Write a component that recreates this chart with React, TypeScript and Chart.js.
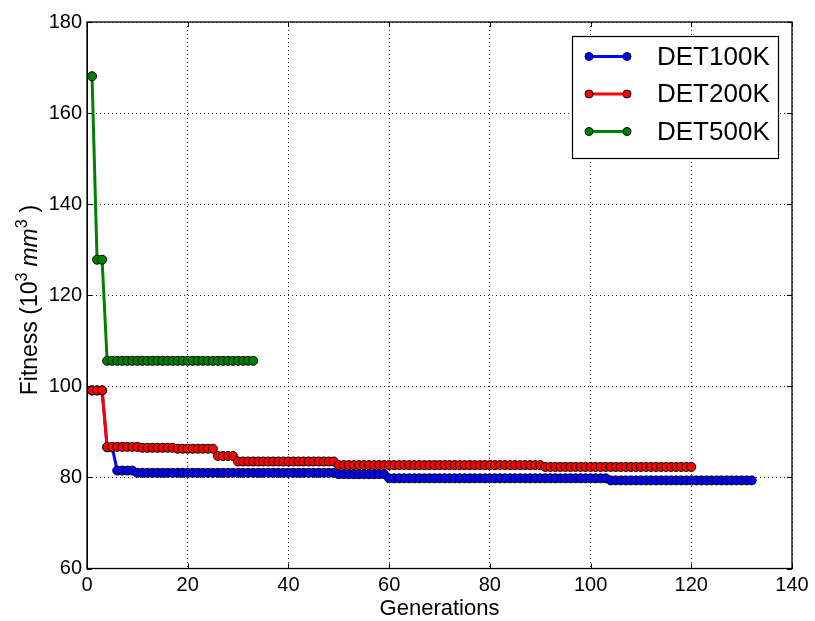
import { useEffect, useRef } from 'react';
import { Chart, registerables } from 'chart.js';

Chart.register(...registerables);

const seriesNames = ['DET100K', 'DET200K', 'DET500K'];
const seriesColors = ['#0000ff', '#ff0000', '#008000'];

// Fitness (10^3 mm^3) per generation, generation 1 .. N
const det100k = [
  99.1, 99.1, 99.1, 86.6, 86.6, 81.5, 81.5, 81.5, 81.5, 81.0,
  81.0, 81.0, 81.0, 81.0, 81.0, 81.0, 81.0, 81.0, 81.0, 81.0,
  81.0, 81.0, 81.0, 81.0, 81.0, 81.0, 81.0, 81.0, 81.0, 81.0,
  81.0, 81.0, 81.0, 81.0, 81.0, 81.0, 81.0, 81.0, 81.0, 81.0,
  81.0, 81.0, 81.0, 81.0, 81.0, 81.0, 81.0, 81.0, 81.0, 80.7,
  80.7, 80.7, 80.7, 80.7, 80.7, 80.7, 80.7, 80.7, 80.7, 79.8,
  79.8, 79.8, 79.8, 79.8, 79.8, 79.8, 79.8, 79.8, 79.8, 79.8,
  79.8, 79.8, 79.8, 79.8, 79.8, 79.8, 79.8, 79.8, 79.8, 79.8,
  79.8, 79.8, 79.8, 79.8, 79.8, 79.8, 79.8, 79.8, 79.8, 79.8,
  79.8, 79.8, 79.8, 79.8, 79.8, 79.8, 79.8, 79.8, 79.8, 79.8,
  79.8, 79.8, 79.8, 79.35, 79.35, 79.35, 79.35, 79.35, 79.35, 79.35,
  79.35, 79.35, 79.35, 79.35, 79.35, 79.35, 79.35, 79.35, 79.35, 79.35,
  79.35, 79.35, 79.35, 79.35, 79.35, 79.35, 79.35, 79.35, 79.35, 79.35,
  79.35, 79.35,
];

const det200k = [
  99.1, 99.1, 99.1, 86.7, 86.7, 86.7, 86.7, 86.7, 86.7, 86.7,
  86.5, 86.5, 86.5, 86.5, 86.5, 86.5, 86.5, 86.3, 86.3, 86.3,
  86.3, 86.3, 86.3, 86.3, 86.3, 84.7, 84.7, 84.7, 84.7, 83.5,
  83.5, 83.5, 83.5, 83.5, 83.5, 83.5, 83.5, 83.5, 83.5, 83.5,
  83.5, 83.5, 83.5, 83.5, 83.5, 83.5, 83.5, 83.5, 83.5, 82.7,
  82.7, 82.7, 82.7, 82.7, 82.7, 82.7, 82.7, 82.7, 82.7, 82.7,
  82.7, 82.7, 82.7, 82.7, 82.7, 82.7, 82.7, 82.7, 82.7, 82.7,
  82.7, 82.7, 82.7, 82.7, 82.7, 82.7, 82.7, 82.7, 82.7, 82.7,
  82.7, 82.7, 82.7, 82.7, 82.7, 82.7, 82.7, 82.7, 82.7, 82.7,
  82.3, 82.3, 82.3, 82.3, 82.3, 82.3, 82.3, 82.3, 82.3, 82.3,
  82.3, 82.3, 82.3, 82.3, 82.3, 82.3, 82.3, 82.3, 82.3, 82.3,
  82.3, 82.3, 82.3, 82.3, 82.3, 82.3, 82.3, 82.3, 82.3, 82.3,
];

const det500k = [
  168.1, 127.8, 127.8, 105.6, 105.6, 105.6, 105.6, 105.6, 105.6, 105.6,
  105.6, 105.6, 105.6, 105.6, 105.6, 105.6, 105.6, 105.6, 105.6, 105.6,
  105.6, 105.6, 105.6, 105.6, 105.6, 105.6, 105.6, 105.6, 105.6, 105.6,
  105.6, 105.6, 105.6,
];

const xTicks = [0, 20, 40, 60, 80, 100, 120, 140];
const yTicks = [60, 80, 100, 120, 140, 160, 180];
const xTitle = 'Generations';
const yTitleParts = ['Fitness (10', '3', 'mm', '3', ')'];

const FONT = '"Liberation Sans", Arial, Helvetica, sans-serif';

const toPoints = (vals: number[]) => vals.map((v, i) => ({ x: i + 1, y: v }));

const framePlugin = {
  id: 'frameAndLegend',
  afterDraw(chart: any) {
    const { ctx, chartArea } = chart;
    const { left, right, top, bottom } = chartArea;
    const xs = chart.scales.x;
    const ys = chart.scales.y;
    ctx.save();
    ctx.setLineDash([]);
    ctx.strokeStyle = '#000';
    ctx.lineWidth = 1;
    // inward ticks
    const tl = 5;
    ctx.beginPath();
    xTicks.forEach((t) => {
      const px = Math.round(xs.getPixelForValue(t)) + 0.5;
      ctx.moveTo(px, bottom);
      ctx.lineTo(px, bottom - tl);
      ctx.moveTo(px, top);
      ctx.lineTo(px, top + tl);
    });
    yTicks.forEach((t) => {
      const py = Math.round(ys.getPixelForValue(t)) + 0.5;
      ctx.moveTo(left, py);
      ctx.lineTo(left + tl, py);
      ctx.moveTo(right, py);
      ctx.lineTo(right - tl, py);
    });
    ctx.stroke();
    // frame
    ctx.lineWidth = 1.3;
    ctx.strokeRect(left, top, right - left, bottom - top);

    // legend
    const bx = 572, by = 36, bw = 206, bh = 122;
    ctx.fillStyle = '#fff';
    ctx.fillRect(bx, by, bw, bh);
    ctx.lineWidth = 1.2;
    ctx.strokeStyle = '#000';
    ctx.strokeRect(bx + 0.5, by + 0.5, bw, bh);
    const rows = [56.5, 94, 131.5];
    chart.data.datasets.forEach((ds: any, i: number) => {
      const y = rows[i];
      ctx.strokeStyle = ds.borderColor;
      ctx.lineWidth = 3;
      ctx.beginPath();
      ctx.moveTo(589, y);
      ctx.lineTo(627, y);
      ctx.stroke();
      [589, 627].forEach((mx) => {
        ctx.beginPath();
        ctx.arc(mx, y, 4, 0, Math.PI * 2);
        ctx.fillStyle = ds.pointBackgroundColor;
        ctx.fill();
        ctx.lineWidth = 1;
        ctx.strokeStyle = '#000';
        ctx.stroke();
      });
      ctx.fillStyle = '#000';
      ctx.font = `26px ${FONT}`;
      ctx.textBaseline = 'middle';
      ctx.textAlign = 'left';
      ctx.fillText(ds.label, 657, y + 1);
    });

    // y axis title with superscripts and italic
    const cy = 300;
    ctx.translate(29, cy);
    ctx.rotate(-Math.PI / 2);
    const parts = [
      { t: yTitleParts[0], f: `23px ${FONT}`, dy: 0, gap: 0 },
      { t: yTitleParts[1], f: `16px ${FONT}`, dy: -10, gap: 0 },
      { t: yTitleParts[2], f: `italic 23px ${FONT}`, dy: 0, gap: 6 },
      { t: yTitleParts[3], f: `16px ${FONT}`, dy: -10, gap: 0 },
      { t: yTitleParts[4], f: `23px ${FONT}`, dy: 0, gap: 7 },
    ];
    let total = 0;
    parts.forEach((p) => {
      ctx.font = p.f;
      total += p.gap + ctx.measureText(p.t).width;
    });
    let x = -total / 2;
    ctx.fillStyle = '#000';
    ctx.textBaseline = 'alphabetic';
    ctx.textAlign = 'left';
    parts.forEach((p) => {
      ctx.font = p.f;
      x += p.gap;
      ctx.fillText(p.t, x, 8 + p.dy);
      x += ctx.measureText(p.t).width;
    });
    ctx.restore();
  },
};

export default function App() {
  const ref = useRef<HTMLCanvasElement | null>(null);

  useEffect(() => {
    document.body.style.margin = '0';
    const canvas = ref.current;
    if (!canvas) return;
    const datasets = [det100k, det200k, det500k].map((vals, i) => ({
      label: seriesNames[i],
      data: toPoints(vals),
      borderColor: seriesColors[i],
      backgroundColor: seriesColors[i],
      pointBackgroundColor: seriesColors[i],
      pointBorderColor: '#000',
      pointBorderWidth: 1,
      pointRadius: 4.5,
      borderWidth: 3,
      tension: 0,
      fill: false,
      order: 3 - i,
    }));
    const chart = new Chart(canvas, {
      type: 'line',
      data: { datasets },
      options: {
        animation: false,
        responsive: false,
        devicePixelRatio: 1,
        layout: { padding: { left: 0, right: 23, top: 22, bottom: 0 } },
        plugins: {
          legend: { display: false },
          tooltip: { enabled: false },
        },
        scales: {
          x: {
            type: 'linear',
            min: 0,
            max: 140,
            afterBuildTicks: (s: any) => {
              s.ticks = xTicks.map((v) => ({ value: v }));
            },
            afterFit: (s: any) => {
              s.height = 52.5;
            },
            ticks: {
              color: '#000',
              font: { family: FONT, size: 20 },
              padding: 5,
              maxRotation: 0,
            },
            grid: { color: 'rgba(0,0,0,0.85)', lineWidth: 1, drawTicks: false, borderDash: [1, 3] } as any,
            border: { display: true, color: '#000', width: 1, dash: [1, 3] },
            title: {
              display: true,
              text: xTitle,
              color: '#000',
              font: { family: FONT, size: 22 },
              padding: { top: 0, bottom: -1 },
            },
          },
          y: {
            type: 'linear',
            min: 60,
            max: 180,
            afterBuildTicks: (s: any) => {
              s.ticks = yTicks.map((v) => ({ value: v }));
            },
            afterFit: (s: any) => {
              s.width = 87;
            },
            ticks: {
              color: '#000',
              font: { family: FONT, size: 20 },
              padding: 5,
            },
            grid: { color: 'rgba(0,0,0,0.85)', lineWidth: 1, drawTicks: false, borderDash: [1, 3] } as any,
            border: { display: true, color: '#000', width: 1, dash: [1, 3] },
          },
        },
      },
      plugins: [framePlugin],
    });
    return () => chart.destroy();
  }, []);

  return (
    <div style={{ width: 815, height: 621 }}>
      <canvas ref={ref} width={815} height={621} style={{ display: 'block' }} />
    </div>
  );
}
